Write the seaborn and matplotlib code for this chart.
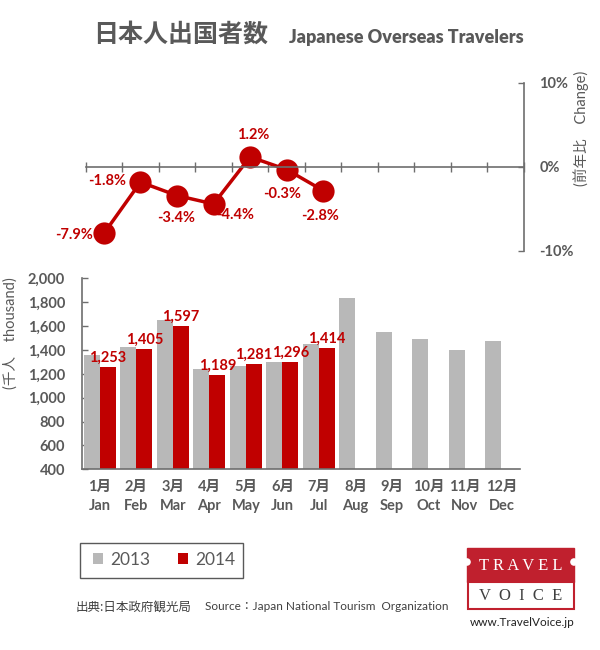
import numpy as np
import pandas as pd
import matplotlib
matplotlib.use("Agg")
import matplotlib.pyplot as plt
import seaborn as sns
from matplotlib.patches import Rectangle, Circle
from matplotlib.ticker import FuncFormatter

# ---------------- data ----------------
months_jp = ["1月", "2月", "3月", "4月", "5月", "6月", "7月", "8月", "9月", "10月", "11月", "12月"]
months_en = ["Jan", "Feb", "Mar", "Apr", "May", "Jun", "Jul", "Aug", "Sep", "Oct", "Nov", "Dec"]
years = ["2013", "2014"]
v2013 = [1357, 1424, 1651, 1243, 1265, 1301, 1452, 1835, 1550, 1491, 1400, 1476]
v2014 = [1253, 1405, 1597, 1189, 1281, 1296, 1414]
change = [-7.9, -1.8, -3.4, -4.4, 1.2, -0.3, -2.8]
yticks_bar = [400, 600, 800, 1000, 1200, 1400, 1600, 1800, 2000]
yticks_pct = [-10, 0, 10]

rows = []
for m, v in zip(months_en, v2013):
    rows.append({"month": m, "year": "2013", "value": v})
for m, v in zip(months_en, v2014):
    rows.append({"month": m, "year": "2014", "value": v})
df = pd.DataFrame(rows)
line_df = pd.DataFrame({"pos": np.arange(len(change)), "change": change})

GRAY = "#B8B8B8"
RED = "#C00000"
TXT = "#595959"
AX = "#6E6E6E"

sns.set_theme(style="white")
plt.rcParams["font.family"] = ["Lato", "Noto Sans CJK JP", "DejaVu Sans"]
CJK = ["Noto Sans CJK JP", "DejaVu Sans"]

W, H = 600, 650
fig = plt.figure(figsize=(6, 6.5), dpi=100)


def fr(x0, y0, x1, y1):
    return [x0 / W, 1 - y1 / H, (x1 - x0) / W, (y1 - y0) / H]


# ---------------- bar chart ----------------
axb = fig.add_axes(fr(81.7, 278.3, 519.7, 469.3))
sns.barplot(data=df, x="month", y="value", hue="year", order=months_en,
            hue_order=years, palette=[GRAY, RED], width=0.876, saturation=1,
            ax=axb, legend=True, linewidth=0, edgecolor="none")
handles, labels = axb.get_legend_handles_labels()
axb.legend_.remove()
axb.set_ylim(yticks_bar[0], yticks_bar[-1])
axb.set_xlim(-0.5, 11.5)
axb.set_yticks(yticks_bar)
axb.yaxis.set_major_formatter(FuncFormatter(lambda v, p: f"{v:,.0f}"))
axb.set_xticks(range(12))
axb.set_xticklabels([f"{j}\n{e}" for j, e in zip(months_jp, months_en)],
                    linespacing=1.45)
axb.set_xlabel("")
axb.set_ylabel("")
for s in ["top", "right"]:
    axb.spines[s].set_visible(False)
for s in ["left", "bottom"]:
    axb.spines[s].set_color(AX)
    axb.spines[s].set_linewidth(1.2)
axb.tick_params(axis="y", direction="in", length=4, width=1, color=AX,
                pad=12, labelsize=10.5, labelcolor=TXT, left=True)
axb.tick_params(axis="x", length=0, pad=8, labelsize=10.5, labelcolor=TXT)
for t in axb.get_yticklabels() + axb.get_xticklabels():
    t.set_fontweight("bold")

cont2014 = axb.containers[1]
axb.bar_label(cont2014, labels=[f"{v:,.0f}" for v in v2014], padding=2,
              color=RED, fontsize=10.5, fontweight="bold")

# ---------------- line chart ----------------
axt = fig.add_axes(fr(85.7, 83, 524, 251))
axt.patch.set_alpha(0)
sns.lineplot(data=line_df, x="pos", y="change", ax=axt, color=RED,
             linewidth=2.5, marker="o", markersize=16, markeredgewidth=0)
axt.set_xlim(-0.5, 11.5)
axt.set_ylim(-10, 10)
axt.set_xlabel("")
axt.set_ylabel("")
axt.spines["left"].set_visible(False)
axt.spines["top"].set_visible(False)
axt.spines["bottom"].set_position(("data", 0))
for s in ["bottom", "right"]:
    axt.spines[s].set_color(AX)
    axt.spines[s].set_linewidth(1.2)
axt.set_xticks(np.arange(-0.5, 12, 1.0))
axt.tick_params(axis="x", direction="inout", length=7, width=1, color=AX,
                labelbottom=False, bottom=True)
axt.yaxis.tick_right()
axt.set_yticks(yticks_pct)
axt.yaxis.set_major_formatter(FuncFormatter(lambda v, p: f"{v:.0f}%"))
axt.tick_params(axis="y", direction="in", length=4, width=1, color=AX,
                pad=11, labelsize=10.5, labelcolor=TXT, right=True, left=False)
for t in axt.get_yticklabels():
    t.set_fontweight("bold")

offsets = [(-30, -2), (-33, 1), (-1, -22), (22, -11), (3, 22), (-4, -24), (-3, -25)]
for i, (v, off) in enumerate(zip(change, offsets)):
    axt.annotate(f"{v:.1f}%", (i, v), xytext=off, textcoords="offset pixels",
                 ha="center", va="center", color=RED, fontsize=10.5,
                 fontweight="bold")

# ---------------- texts & decorations ----------------
fig.text(93 / W, 1 - 35 / H, "日本人出国者数", fontsize=18, fontweight="bold",
         color=TXT, ha="left", va="center", family=CJK)
fig.text(289 / W, 1 - 38 / H, "Japanese Overseas Travelers", fontsize=13,
         fontweight="heavy", color=TXT, ha="left", va="center")
fig.text(11 / W, 1 - 333 / H, "(千人　thousand)", fontsize=10.5, color=TXT,
         rotation=90, ha="center", va="center")
fig.text(581 / W, 1 - 128 / H, "(前年比　Change)", fontsize=10.5, color=TXT,
         rotation=90, ha="center", va="center")

ov = fig.add_axes([0, 0, 1, 1], zorder=-1)
ov.set_xlim(0, W)
ov.set_ylim(H, 0)
ov.axis("off")

# legend box
ov.add_patch(Rectangle((79.5, 542.5), 163, 35.5, fill=False, edgecolor=TXT, lw=1))
fig.legend(handles, labels, loc="center", bbox_to_anchor=(164 / W, 1 - 560 / H),
           ncol=2, frameon=False, fontsize=12.5, handlelength=0.6,
           handleheight=0.6, handletextpad=0.4, columnspacing=1.6,
           labelcolor=TXT)

fig.text(76 / W, 1 - 607 / H, "出典:日本政府観光局", fontsize=9, color="#404040",
         ha="left", va="center", family=CJK)
fig.text(205 / W, 1 - 607 / H, "Source：Japan National Tourism  Organization",
         fontsize=8.5, color="#404040", ha="left", va="center")

# logo
LRED = "#C0202E"
ov.add_patch(Rectangle((467, 548), 107, 34, facecolor=LRED, edgecolor=LRED, lw=1))
ov.add_patch(Rectangle((467.5, 582), 106, 27, facecolor="white", edgecolor=LRED, lw=1.5))
ov.add_patch(Circle((467, 562), 3.8, facecolor="white", edgecolor="none"))
ov.add_patch(Circle((574, 562), 3.8, facecolor="white", edgecolor="none"))
ov.text(520.5, 565.5, "T R A V E L", fontsize=12, family="Liberation Serif",
        color="white", ha="center", va="center")
ov.text(520.5, 596.5, "V  O  I  C  E", fontsize=12, family="Liberation Serif",
        color="#404040", ha="center", va="center")
ov.text(522, 623, "www.TravelVoice.jp", fontsize=8.5, color="#222222",
        ha="center", va="center")

fig.savefig("out.png", dpi=100)
